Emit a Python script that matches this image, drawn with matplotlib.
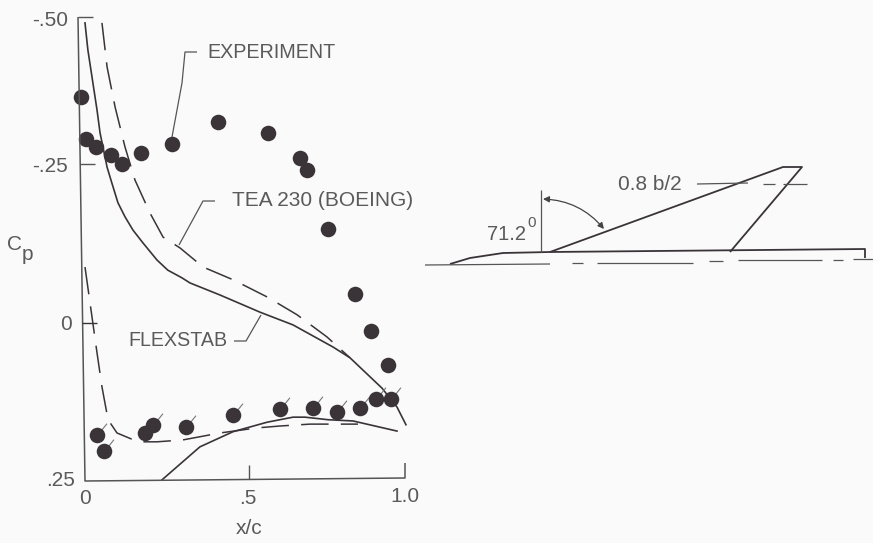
import numpy as np
import matplotlib
matplotlib.use("Agg")
import matplotlib.pyplot as plt
from matplotlib.path import Path
from matplotlib.patches import FancyArrowPatch

plt.rcParams['font.family'] = ['Liberation Sans', 'DejaVu Sans']

# upper surface experiment
upper_x = [-.014, .003, .034, .080, .116, .175, .272, .416, .572, .672, .694, .759, .844, .894, .947]
upper_cp = [-.364, -.293, -.279, -.266, -.25, -.269, -.284, -.322, -.303, -.260, -.241, -.148, -.045, .013, .066]

# lower surface experiment (flagged symbols)
lower_x = [.036, .059, .1875, .214, .316, .464, .609, .7125, .7875, .859, .909, .956]
lower_cp = [.177, .202, .174, .161, .165, .146, .136, .134, .141, .134, .120, .120]

flex_up_x = [0, .009, .0375, .047, .069, .084, .103, .125, .15, .181, .225, .259, .303, .328, .422, .547,
             .65, .775, .828, .928, .975, 1.003]
flex_up_cp = [-.49, -.444, -.342, -.303, -.245, -.220, -.189, -.167, -.146, -.126, -.099, -.083, -.071, -.063,
              -.044, -.017, .003, .038, .055, .103, .133, .161]

flex_lo_x = [.241, .359, .4625, .569, .65, .6875, .759, .8375, .975]
flex_lo_cp = [.248, .196, .172, .157, .149, .149, .153, .155, .171]

tea_up_x = [.053, .069, .094, .125, .156, .203, .244, .297, .369, .4625, .569, .6625, .756, .828]
tea_up_cp = [-.49, -.415, -.347, -.279, -.225, -.173, -.135, -.118, -.088, -.068, -.041, -.013, .022, .055]

tea_lo_x = [0, .022, .0375, .053, .072, .1, .166, .225, .306, .422, .5375, .609, .703, .759, .853]
tea_lo_cp = [-.088, -.009, .047, .101, .153, .174, .188, .188, .185, .174, .166, .163, .160, .160, .160]

ink = '#3a3438'
txt = '#5a5a5a'
bg = '#fafafa'

fig = plt.figure(figsize=(8.73, 5.43), dpi=100, facecolor=bg)

# plot area, the printed Cp axis is not evenly spaced so use a scale that follows it
cp_ticks = [-.5, -.25, 0, .25]
cp_pos = [0, 147, 306, 464]
ax = fig.add_axes([85/873, 1-481/543, 320/873, 464/543])
ax.set_yscale('function', functions=(lambda v: np.interp(v, cp_ticks, cp_pos),
                                     lambda p: np.interp(p, cp_pos, cp_ticks)))
ax.set_xlim(0, 1)
ax.set_ylim(.25, -.5)
ax.axis('off')

ax.plot(flex_up_x, flex_up_cp, color=ink, lw=1.2, clip_on=False)
ax.plot(flex_lo_x, flex_lo_cp, color=ink, lw=1.2, clip_on=False)
ax.plot(tea_up_x, tea_up_cp, color=ink, lw=1.1, dashes=(18, 8), clip_on=False)
ax.plot(tea_lo_x, tea_lo_cp, color=ink, lw=1.1, dashes=(18, 8), clip_on=False)

flag = Path([(0, 0), (1, 1.25)])
ax.plot(lower_x, lower_cp, ls='', marker=flag, ms=17, mew=.8, mec='#777777', mfc='none', clip_on=False, zorder=4)
ax.plot(upper_x, upper_cp, ls='', marker='o', ms=11.2, mfc=ink, mec=ink, mew=0, clip_on=False, zorder=5)
ax.plot(lower_x, lower_cp, ls='', marker='o', ms=11.2, mfc=ink, mec=ink, mew=0, clip_on=False, zorder=5)

# overlay in picture pixels for frame, leaders, labels and the wing sketch
sk = fig.add_axes([0, 0, 1, 1], facecolor='none')
sk.set_xlim(0, 873)
sk.set_ylim(543, 0)
sk.axis('off')


def line(xs, ys, lw=1.0, color='#555555', **kw):
    sk.plot(xs, ys, color=color, lw=lw, solid_capstyle='butt', **kw)


# frame
line([78, 85, 405, 405], [17, 481, 478, 463], lw=1.1)
line([78, 93], [17, 17])
line([80, 95], [164, 164])
line([82, 97], [323, 323], color=ink)
line([249, 249], [465, 479])

# tick labels
for s, x, y in [('-.50', 68, 20), ('-.25', 68, 166), ('0', 72, 324), ('.25', 75, 481)]:
    sk.text(x, y, s, ha='right', va='center', fontsize=15, color=txt)
for s, x, y in [('0', 85, 499), ('.5', 248, 498), ('1.0', 405, 496)]:
    sk.text(x, y, s, ha='center', va='center', fontsize=15, color=txt)
sk.text(249, 529, 'x/c', ha='center', va='center', fontsize=15, color=txt)
sk.text(15, 244, 'C', ha='center', va='center', fontsize=15, color=txt)
sk.text(27, 254, 'p', ha='center', va='center', fontsize=15, color=txt)

# labels and leaders
sk.text(207, 53, 'EXPERIMENT', ha='left', va='center', fontsize=14.2, color=txt)
line([197, 185, 182, 172], [52, 52, 83, 137], lw=.9)
sk.text(232, 201, 'TEA 230 (BOEING)', ha='left', va='center', fontsize=15, color=txt)
line([215, 203, 179], [201, 201, 245], lw=.9)
sk.text(128, 341, 'FLEXSTAB', ha='left', va='center', fontsize=14.1, color=txt)
line([234, 246, 261], [341, 341, 315], lw=.9)

# wing sketch
line([550, 783, 802, 730], [252, 167, 167, 252], lw=1.3, color=ink)
line([450, 470, 503, 550, 865, 865], [264, 258, 253, 252, 249, 258], lw=1.3, color=ink)
line([425, 550], [265, 264], lw=.9)
for x0, x1, y0 in [(572, 583, 263), (597, 693, 262.5), (709, 723, 261), (738, 822, 260),
                   (833, 843, 260), (853, 873, 259)]:
    line([x0, x1], [y0, y0], lw=.9)
line([541, 541], [190, 252], lw=.9)
sk.add_patch(FancyArrowPatch((543, 199), (604, 229), arrowstyle='<|-|>', mutation_scale=9,
                             connectionstyle='arc3,rad=-0.22', color='#444444', lw=.9, shrinkA=0, shrinkB=0))
line([697, 748], [184, 183], lw=.9)
line([763, 775], [183.5, 183.5], lw=.9)
line([783, 807], [183.5, 183.5], lw=.9)
sk.text(618, 184, '0.8 b/2', ha='left', va='center', fontsize=15, color=txt)
sk.text(487, 234, '71.2', ha='left', va='center', fontsize=14.5, color=txt)
sk.text(532, 223, '0', ha='center', va='center', fontsize=11, color=txt)

fig.savefig('out.png', dpi=100, facecolor=bg)
